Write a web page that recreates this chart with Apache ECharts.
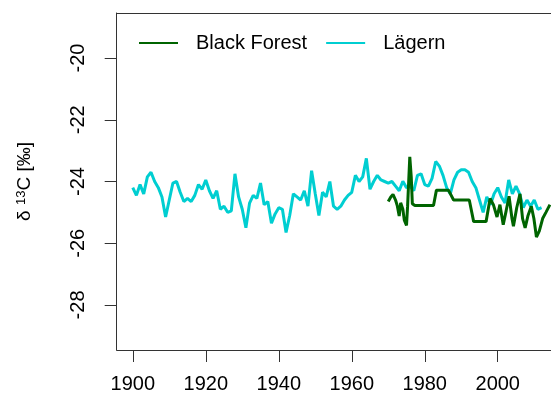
<!DOCTYPE html>
<html>
<head>
<meta charset="utf-8">
<script src="https://cdn.jsdelivr.net/npm/echarts@6/dist/echarts.min.js"></script>
<style>
html,body{margin:0;padding:0;background:#fff;}
#chart{width:551px;height:399px;}
</style>
</head>
<body>
<div id="chart"></div>
<script>
// Lägern annual series
var lagernYears = [];
for (var y = 1900; y <= 2012; y++) lagernYears.push(y);
var lagernValues = [
  -24.2,-24.45,-24.1,-24.4,-23.85,-23.7,-24.0,-24.2,-24.5,-25.15,
  -24.6,-24.05,-24.0,-24.35,-24.65,-24.55,-24.65,-24.45,-24.1,-24.25,
  -23.95,-24.3,-24.55,-24.3,-24.9,-24.8,-25.0,-24.95,-23.75,-24.5,
  -24.9,-25.5,-24.7,-24.45,-24.55,-24.05,-24.75,-24.65,-25.35,-25.05,
  -24.85,-24.9,-25.65,-25.1,-24.4,-24.5,-24.6,-24.3,-24.8,-23.65,
  -24.4,-25.1,-24.35,-24.5,-24.0,-24.8,-24.9,-24.8,-24.6,-24.45,
  -24.35,-23.8,-24.0,-23.85,-23.25,-24.25,-24.0,-23.8,-23.95,-24.0,
  -24.05,-24.0,-24.15,-24.3,-23.99,-24.2,-24.15,-24.3,-23.8,-23.75,
  -24.1,-24.15,-23.9,-23.35,-23.5,-23.8,-24.2,-24.4,-23.95,-23.7,
  -23.62,-23.62,-23.7,-24.0,-24.2,-24.6,-25.0,-24.5,-24.75,-24.4,
  -24.2,-24.5,-24.7,-23.95,-24.4,-24.15,-24.4,-24.85,-24.6,-24.8,
  -24.6,-24.9,-24.85
];
// Black Forest series (irregular sampling)
var bfYears = [
  1970,1970.7,1971.3,1972,1972.5,1973,1973.4,1974,1974.4,1975,
  1975.3,1975.9,1976.3,1976.6,1977.3,1982.4,1983.2,1986.5,1987.9,1992.2,
  1993.4,1996.8,1997.9,1998.8,1999.8,2000.6,2001.5,2002.3,2003.1,2003.9,
  2004.3,2005.2,2006.1,2006.8,2007.5,2008.3,2009.2,2009.9,2010.6,2011.4,
  2012.3,2013.2,2014.3
];
var bfValues = [
  -24.65,-24.5,-24.42,-24.6,-24.8,-25.12,-24.69,-24.9,-25.25,-25.42,
  -24.8,-23.2,-23.85,-24.72,-24.78,-24.78,-24.28,-24.28,-24.6,-24.6,
  -25.3,-25.3,-24.55,-24.75,-25.15,-24.75,-25.4,-24.95,-24.48,-25.2,
  -25.45,-24.85,-24.4,-25.2,-25.5,-25.1,-24.8,-25.2,-25.8,-25.6,
  -25.2,-25.0,-24.75
];
var xTicks = [1900,1920,1940,1960,1980,2000];
var yTicks = [-28,-26,-24,-22,-20];

function pairs(xs, ys){ return xs.map(function(x,i){ return [x, ys[i]]; }); }

var font = 'Liberation Sans, Arial, sans-serif';
var xMin = 1895.6, xMax = 2014.59;
var chart = echarts.init(document.getElementById('chart'), null, {renderer:'canvas'});
chart.setOption({
  animation:false,
  backgroundColor:'#ffffff',
  grid:{left:116.7, top:13, bottom:49, right:0, show:false},
  legend:{
    data:['Black Forest','Lägern'],
    left:134, top:28,
    icon:'rect', itemWidth:39, itemHeight:2.2, itemGap:19,
    textStyle:{fontFamily:font, fontSize:20, color:'#000', padding:[0,0,0,13]}
  },
  xAxis:[{
    type:'value', min:xMin, max:xMax, position:'bottom',
    splitLine:{show:false},
    axisLine:{show:true, lineStyle:{color:'#333', width:1}},
    axisTick:{show:true, customValues:xTicks, length:12, lineStyle:{color:'#333'}},
    axisLabel:{customValues:xTicks, margin:24, fontFamily:font, fontSize:20, color:'#000',
      formatter:function(v){ return String(v); }}
  },{
    type:'value', min:xMin, max:xMax, position:'top',
    splitLine:{show:false},
    axisLine:{show:true, lineStyle:{color:'#333', width:1}},
    axisTick:{show:false}, axisLabel:{show:false}
  }],
  yAxis:{
    type:'value', min:-29.46, max:-18.54,
    splitLine:{show:false},
    axisLine:{show:true, lineStyle:{color:'#333', width:1}},
    axisTick:{show:true, customValues:yTicks, length:12, lineStyle:{color:'#333'}},
    axisLabel:{customValues:yTicks, rotate:90, margin:28, fontFamily:font, fontSize:20, color:'#000',
      formatter:function(v){ return String(v); }},
    name:'{a|δ }{s|13}{a|C [‰]}',
    nameLocation:'middle', nameGap:81, nameRotate:90,
    nameTextStyle:{
      rich:{
        a:{fontFamily:font, fontSize:19, color:'#000'},
        s:{fontFamily:font, fontSize:13, color:'#000', verticalAlign:'bottom', padding:[0,0,8,0]}
      }
    }
  },
  series:[
    {name:'Lägern', type:'line', data:pairs(lagernYears, lagernValues), showSymbol:false, symbol:'none',
     lineStyle:{color:'#00CED1', width:3}, itemStyle:{color:'#00CED1'}},
    {name:'Black Forest', type:'line', data:pairs(bfYears, bfValues), showSymbol:false, symbol:'none',
     lineStyle:{color:'#006400', width:3}, itemStyle:{color:'#006400'}}
  ]
});
</script>
</body>
</html>
